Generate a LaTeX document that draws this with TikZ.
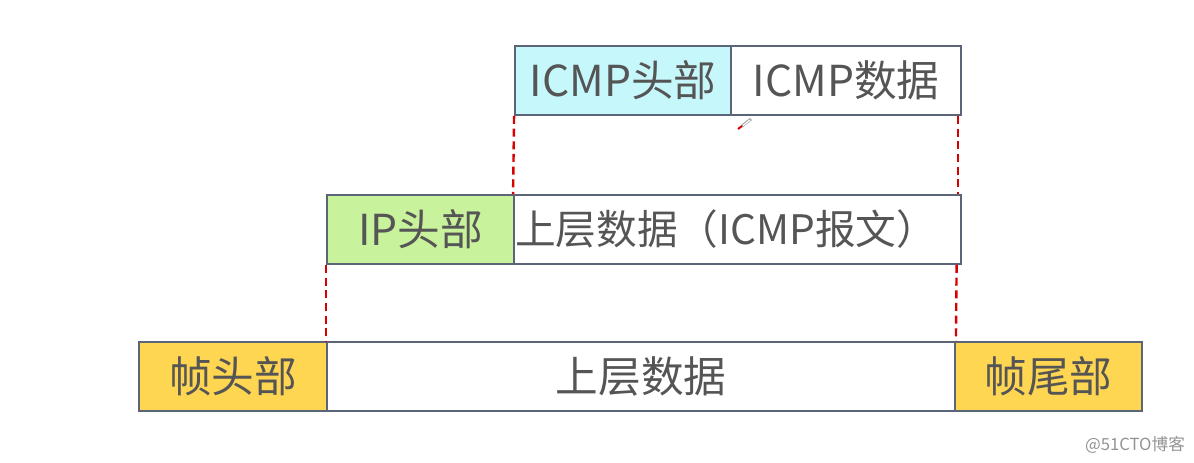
\documentclass[tikz,border=0pt]{standalone}
\usepackage{fontspec}
\setmainfont{Noto Sans CJK SC}
\newfontfamily\cjk{Noto Sans CJK SC}
\begin{document}
\begin{tikzpicture}[x=0.75pt,y=-0.75pt,
  cell/.style={draw=boxline,line width=1.4pt,text=txt,font=\cjk\fontsize{32}{36}\selectfont,inner sep=0pt},
  guide/.style={draw=red!85!black,line width=1.8pt,dash pattern=on 6pt off 3.5pt}]
\definecolor{boxline}{HTML}{5C6478}
\definecolor{txt}{HTML}{555555}
\definecolor{cyanf}{HTML}{C6F7FB}
\definecolor{greenf}{HTML}{C9F29C}
\definecolor{yellf}{HTML}{FFD652}
\useasboundingbox (0,0) rectangle (1194,463);
% top row
\node[cell,fill=cyanf,minimum width=216*0.75pt,minimum height=69*0.75pt] (ih) at (623,80.5) {ICMP头部};
\node[cell,fill=white,minimum width=230*0.75pt,minimum height=69*0.75pt] (id) at (846,80.5) {ICMP数据};
% middle row
\node[cell,fill=greenf,minimum width=187*0.75pt,minimum height=69*0.75pt] (iph) at (420.5,229.5) {IP头部};
\node[cell,fill=white,minimum width=447*0.75pt,minimum height=69*0.75pt] (ipd) at (737.5,229.5) {};
\node[text=txt,font=\cjk\fontsize{30.5}{34}\selectfont,inner sep=0pt,anchor=west] (ipdt) at (515,229.5) {上层数据（ICMP报文）};
% bottom row
\node[cell,fill=yellf,minimum width=188*0.75pt,minimum height=69*0.75pt] (fh) at (233,376.5) {帧头部};
\node[cell,fill=white,minimum width=628*0.75pt,minimum height=69*0.75pt] (fd) at (641,376.5) {上层数据};
\node[cell,fill=yellf,minimum width=187*0.75pt,minimum height=69*0.75pt] (ft) at (1048.5,376.5) {帧尾部};
% guides
\coordinate (a1) at (ih.south west);
\coordinate (a2) at (ipd.north west);
\draw[guide] (a1) -- (a2);
\coordinate (b1) at ([xshift=-3pt]id.south east);
\coordinate (b2) at ([xshift=-3pt]ipd.north east);
\draw[guide] (b1) -- (b2);
\coordinate (c1) at (iph.south west);
\coordinate (c2) at (fd.north west);
\draw[guide] (c1) -- (c2);
\coordinate (d1) at ([xshift=-4pt]ipd.south east);
\coordinate (d2) at (fd.north east);
\draw[guide] (d1) -- (d2);
% small pointer mark
\coordinate (p1) at (751,119);
\coordinate (p2) at (738,129);
\draw[gray!70,line width=2.2pt] (p1) -- (742,126);
\draw[white,line width=0.9pt] (750,120) -- (743,125.5);
\draw[red!85!black,line width=1.5pt] (742,126) -- (p2);
% watermark
\node[text=gray!85,font=\cjk\fontsize{12.5}{14}\selectfont,anchor=center] (wm) at (1135,445) {@51CTO博客};
\end{tikzpicture}
\end{document}
